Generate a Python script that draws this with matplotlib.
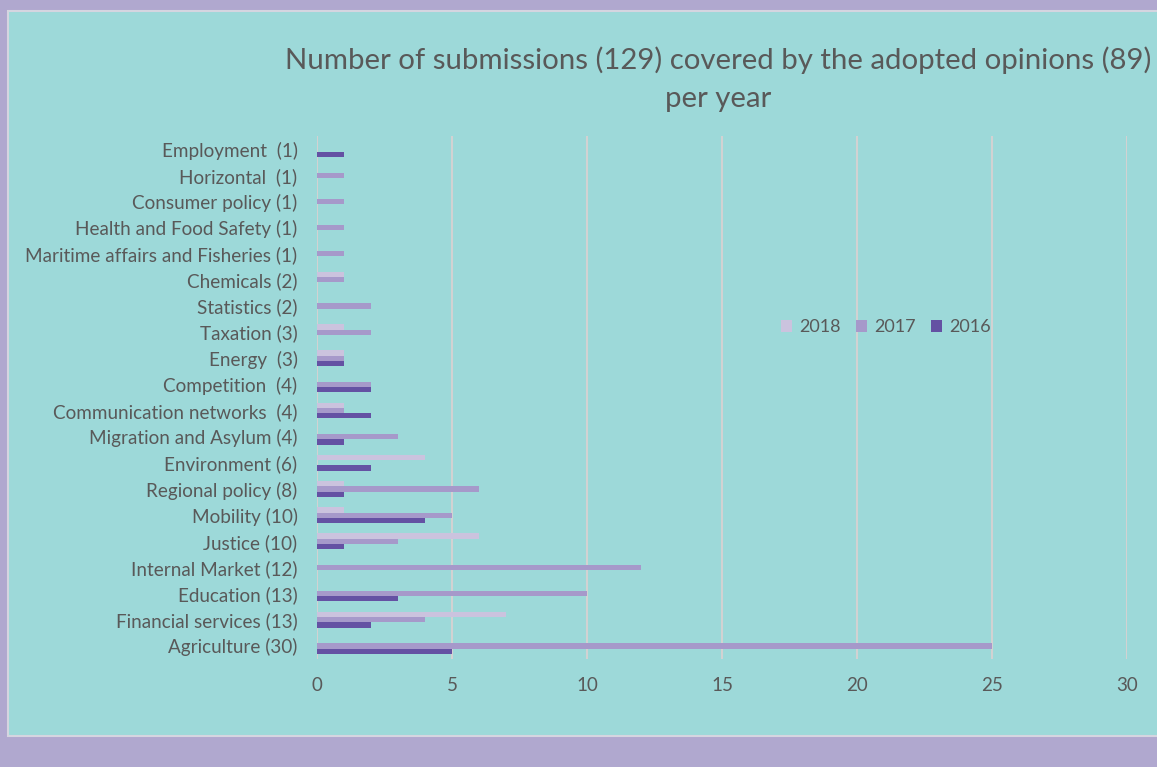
import matplotlib
matplotlib.use("Agg")
import matplotlib.pyplot as plt
from matplotlib.patches import Rectangle
import numpy as np

categories = [
    "Agriculture (30)", "Financial services (13)", "Education (13)", "Internal Market (12)",
    "Justice (10)", "Mobility (10)", "Regional policy (8)", "Environment (6)",
    "Migration and Asylum (4)", "Communication networks  (4)", "Competition  (4)",
    "Energy  (3)", "Taxation (3)", "Statistics (2)", "Chemicals (2)",
    "Maritime affairs and Fisheries (1)", "Health and Food Safety (1)",
    "Consumer policy (1)", "Horizontal  (1)", "Employment  (1)",
]
v2016 = [5, 2, 3, 0, 1, 4, 1, 2, 1, 2, 2, 1, 0, 0, 0, 0, 0, 0, 0, 1]
v2017 = [25, 4, 10, 12, 3, 5, 6, 0, 3, 1, 2, 1, 2, 2, 1, 1, 1, 1, 1, 0]
v2018 = [0, 7, 0, 0, 6, 1, 1, 4, 0, 1, 0, 1, 1, 0, 1, 0, 0, 0, 0, 0]
years = ["2018", "2017", "2016"]
xticks = [0, 5, 10, 15, 20, 25, 30]
title_lines = ["Number of submissions (129) covered by the adopted opinions (89)", "per year"]

FONT = "Lato"
TXT = "#595959"
C2018 = "#CBC3DE"
C2017 = "#A699CA"
C2016 = "#6451A3"
TEAL = "#9DD9D9"
PURPLE = "#B0A8CF"
GRID = "#D2D2D2"

W, H = 1157, 767
fig = plt.figure(figsize=(W / 100, H / 100), dpi=100, facecolor=PURPLE)

# inner panel
fig.patches.append(Rectangle((8 / W, 1 - 736 / H), (W - 8) / W + 0.01, (736 - 11) / H,
                             transform=fig.transFigure, facecolor=TEAL,
                             edgecolor="#D5D5E0", linewidth=1.5, zorder=-5))

ax = fig.add_axes([317 / W, 1 - 659 / H, (1127 - 317) / W, (659 - 136) / H])
ax.set_facecolor("none")
ax.set_zorder(2)

y = np.arange(len(categories))
h = 0.2
ax.barh(y + h, v2018, height=h, color=C2018, label=years[0], zorder=3)
ax.barh(y, v2017, height=h, color=C2017, label=years[1], zorder=3)
ax.barh(y - h, v2016, height=h, color=C2016, label=years[2], zorder=3)

ax.set_xlim(0, 30)
ax.set_ylim(-0.5, len(categories) - 0.5)
ax.set_xticks(xticks)
ax.set_xticklabels([str(t) for t in xticks], fontsize=13.5, color=TXT, family=FONT)
ax.set_yticks(y)
ax.set_yticklabels(categories, fontsize=13.6, color=TXT, family=FONT)
ax.tick_params(axis="both", length=0)
ax.tick_params(axis="x", pad=13)
ax.tick_params(axis="y", pad=14)
for s in ax.spines.values():
    s.set_visible(False)
ax.grid(axis="x", color=GRID, linewidth=1.5, zorder=1)
ax.set_axisbelow(True)

leg = ax.legend(loc="center", bbox_to_anchor=(886 / W, 1 - 327 / H),
                bbox_transform=fig.transFigure, ncol=3, frameon=False,
                prop={"family": FONT, "size": 13}, handlelength=0.65, handleheight=0.65,
                columnspacing=0.8, handletextpad=0.4)
for t in leg.get_texts():
    t.set_color(TXT)

fig.text(718 / W, 1 - 60 / H, title_lines[0], ha="center", va="center",
         fontsize=21.2, color=TXT, family=FONT)
fig.text(718 / W, 1 - 99 / H, title_lines[1], ha="center", va="center",
         fontsize=21.2, color=TXT, family=FONT)

fig.savefig("out.png", dpi=100, facecolor=PURPLE)
